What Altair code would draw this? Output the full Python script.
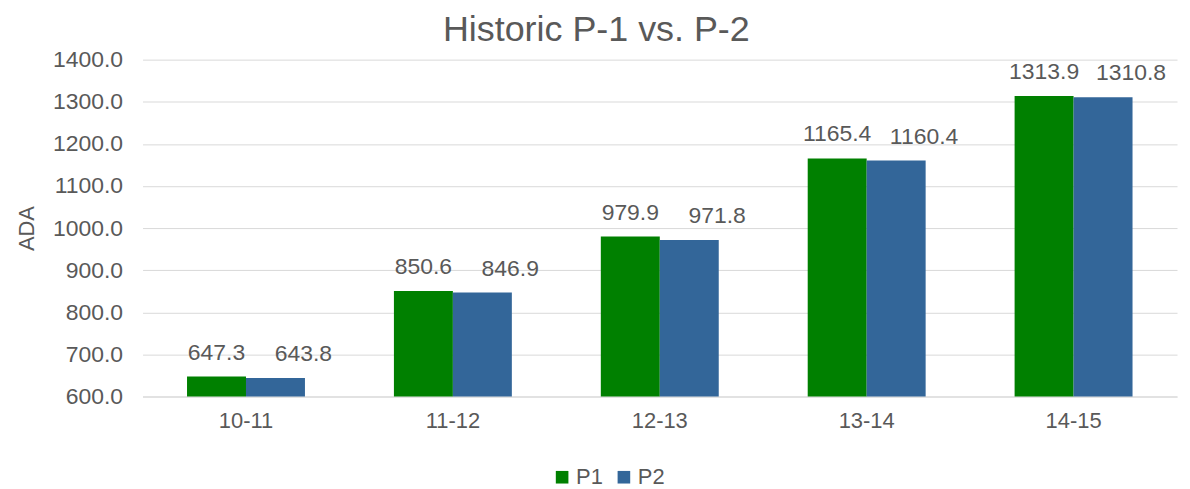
import altair as alt
import pandas as pd

categories = ["10-11", "11-12", "12-13", "13-14", "14-15"]
p1_values = [647.3, 850.6, 979.9, 1165.4, 1313.9]
p2_values = [643.8, 846.9, 971.8, 1160.4, 1310.8]
series_names = ["P1", "P2"]
series_colors = ["#008000", "#336699"]

rows = []
for c, a, b in zip(categories, p1_values, p2_values):
    rows.append({"year": c, "series": "P1", "value": a})
    rows.append({"year": c, "series": "P2", "value": b})
df = pd.DataFrame(rows)

FONT = "Liberation Sans"
TXT = "#595959"

x = alt.X("year:N", sort=categories, title=None,
          scale=alt.Scale(paddingInner=0.43, paddingOuter=0.215),
          axis=alt.Axis(labelAngle=0, labelFontSize=22, labelColor=TXT, labelFont=FONT,
                        ticks=False, labelPadding=14, domainColor="#D9D9D9", grid=False))
y = alt.Y("value:Q", title="ADA",
          scale=alt.Scale(domain=[600, 1400], zero=False, nice=False),
          axis=alt.Axis(format=".1f", values=[600, 700, 800, 900, 1000, 1100, 1200, 1300, 1400],
                        labelFontSize=23, labelColor=TXT, labelFont=FONT, ticks=False,
                        labelPadding=20, domain=False, gridColor="#D9D9D9",
                        titleFontSize=22, titleFontWeight="normal", titleColor=TXT,
                        titleFont=FONT, titlePadding=14))
color = alt.Color("series:N", scale=alt.Scale(domain=series_names, range=series_colors),
                  legend=alt.Legend(title=None, orient="none", direction="horizontal",
                                    legendX=410, legendY=408, symbolType="square",
                                    symbolSize=160, labelFontSize=22, labelColor=TXT,
                                    labelFont=FONT, symbolStrokeWidth=0, columnPadding=10,
                                    labelOffset=3))
xoff_scale = alt.Scale(domain=series_names)

base = alt.Chart(df)
bars = base.mark_bar().encode(
    x=x, xOffset=alt.XOffset("series:N", sort=series_names, scale=xoff_scale),
    y=y, y2=alt.datum(600), color=color)

text_p1 = base.transform_filter(alt.datum.series == "P1").mark_text(
    font=FONT, fontSize=23, color=TXT, baseline="middle", dy=-24
).encode(x=x, xOffset=alt.XOffset("series:N", sort=series_names, scale=xoff_scale),
         y=y, text=alt.Text("value:Q", format=".1f"))
text_p2 = base.transform_filter(alt.datum.series == "P2").mark_text(
    font=FONT, fontSize=23, color=TXT, baseline="middle", dy=-24, dx=28
).encode(x=x, xOffset=alt.XOffset("series:N", sort=series_names, scale=xoff_scale),
         y=y, text=alt.Text("value:Q", format=".1f"))

chart = alt.layer(bars, text_p1, text_p2).properties(
    width=1038, height=338,
    padding={"left": 7, "top": 3, "right": 5, "bottom": 5},
    title=alt.Title("Historic P-1 vs. P-2", fontSize=36, font=FONT, color=TXT,
                    fontWeight="normal", anchor="middle", frame="bounds", offset=0),
    background="white",
).configure_view(stroke=None)

chart.save("out.html", embed_options={"renderer": "svg", "actions": False})
